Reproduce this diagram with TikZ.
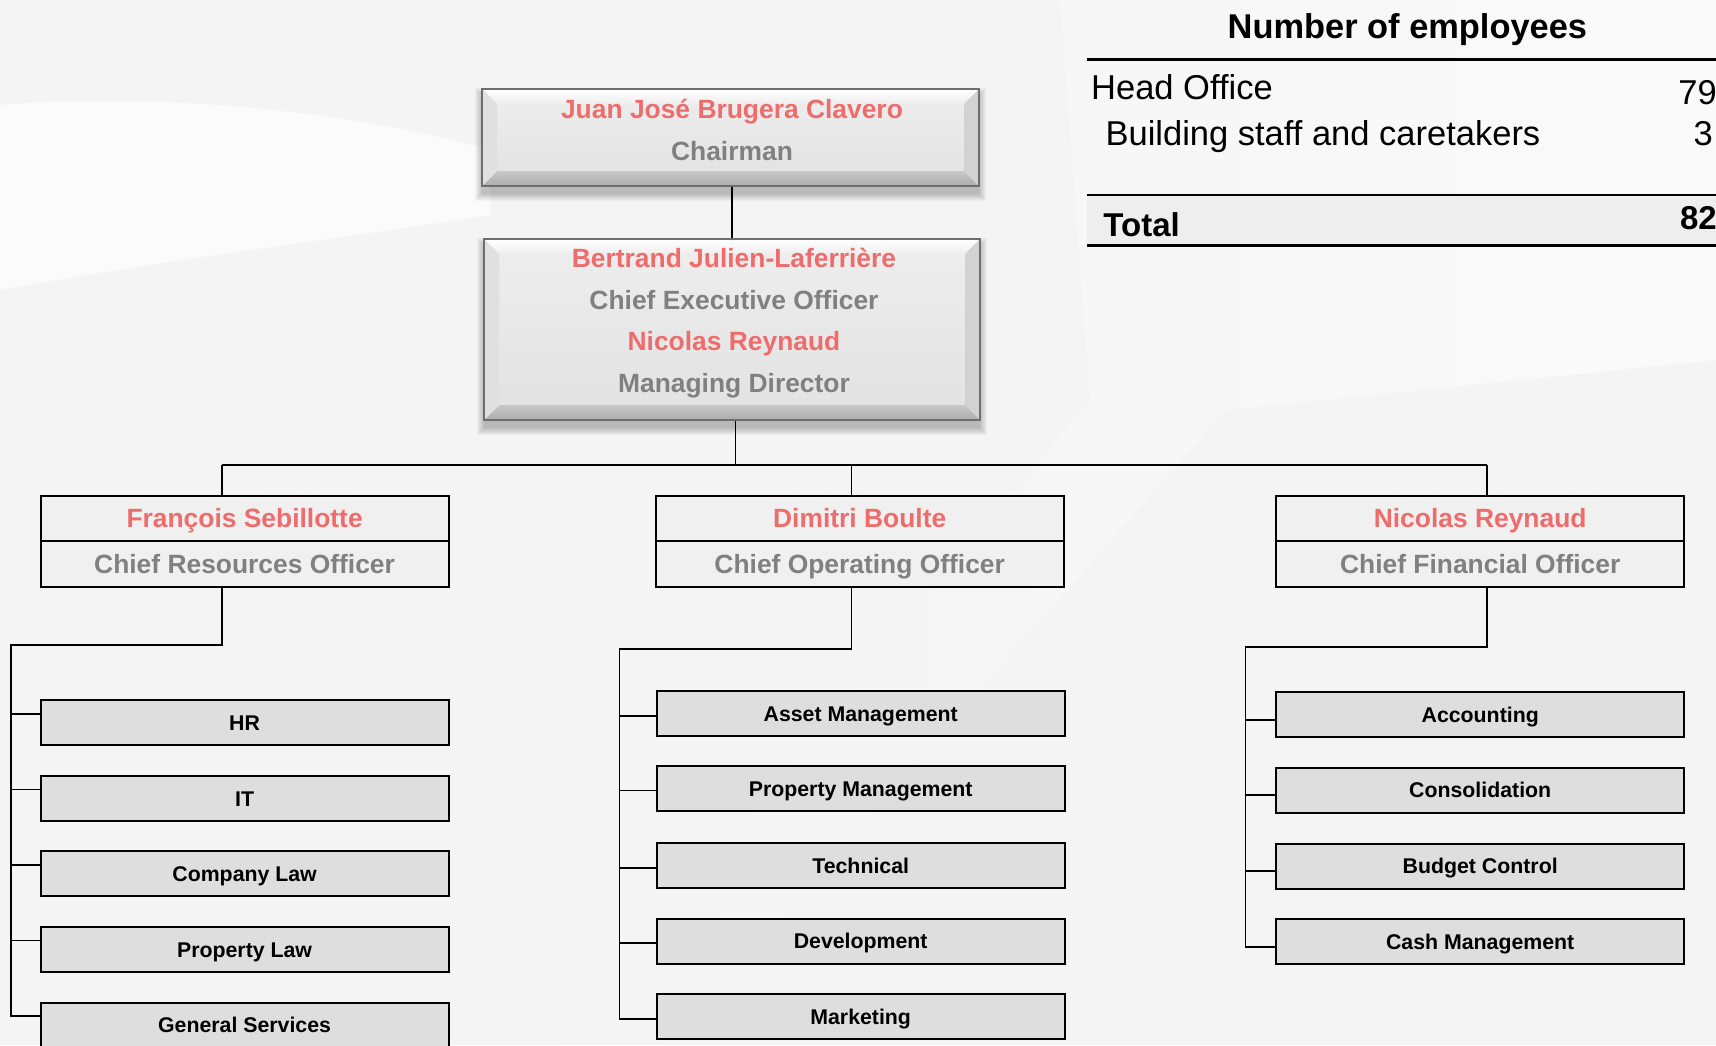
\documentclass[tikz,border=0pt]{standalone}
\usepackage{fontspec}
\setmainfont{Liberation Sans}
\usetikzlibrary{calc}
\definecolor{bgc}{RGB}{245,244,245}
\definecolor{namered}{RGB}{238,108,108}
\definecolor{titlegrey}{RGB}{128,128,128}
\definecolor{offfill}{RGB}{240,240,240}
\definecolor{deptfill}{RGB}{222,222,222}
\definecolor{bandfill}{RGB}{238,238,238}
\definecolor{bevborder}{RGB}{110,110,110}
\definecolor{faceTop}{RGB}{238,238,238}
\definecolor{faceBot}{RGB}{226,226,226}
\definecolor{bevbotA}{RGB}{200,200,200}
\definecolor{bevbotB}{RGB}{172,172,172}
\definecolor{bevsideL}{RGB}{224,224,224}
\definecolor{bevsideR}{RGB}{210,210,210}

\newcommand{\softshadow}[1]{%
  \foreach \s in {0,2,...,14}{%
    \fill[black, opacity=0.03] ($(#1.north west)+(-\s/2,6-\s/2)$) rectangle ($(#1.south east)+(\s/2,8+\s/2)$);
  }%
}
\newcommand{\bevelbox}[1]{%
  \shade[top color=faceTop, bottom color=faceBot] (#1.north west) rectangle (#1.south east);
  \shade[top color=white, bottom color=faceTop] (#1.north west) -- (#1.north east) -- ($(#1.north east)+(-15,15)$) -- ($(#1.north west)+(15,15)$) -- cycle;
  \shade[top color=bevbotA, bottom color=bevbotB] (#1.south west) -- ($(#1.south west)+(15,-15)$) -- ($(#1.south east)+(-15,-15)$) -- (#1.south east) -- cycle;
  \fill[bevsideL] (#1.north west) -- ($(#1.north west)+(15,15)$) -- ($(#1.south west)+(15,-15)$) -- (#1.south west) -- cycle;
  \fill[bevsideR] (#1.north east) -- ($(#1.north east)+(-15,15)$) -- ($(#1.south east)+(-15,-15)$) -- (#1.south east) -- cycle;
  \draw[bevborder, line width=2.5pt] (#1.north west) rectangle (#1.south east);
}

\tikzset{
  conn/.style={draw=black, line width=1.8pt},
  boxshape/.style={inner sep=0pt, outer sep=0pt},
  namestyle/.style={inner sep=0pt, text height=18.9pt, text depth=0pt, font=\fontsize{26.4}{30}\selectfont\bfseries, text=namered},
  titlestyle/.style={namestyle, text=titlegrey},
  offbox/.style={draw=black, line width=2pt, fill=offfill, minimum width=408pt, inner sep=0pt, outer sep=0pt, text height=18.9pt, text depth=0pt, font=\fontsize{26.4}{30}\selectfont\bfseries},
  offname/.style={offbox, minimum height=44.8pt, text=namered},
  offtitle/.style={offbox, minimum height=46pt, text=titlegrey},
  deptbox/.style={draw=black, line width=2pt, fill=deptfill, minimum width=408pt, minimum height=45pt, inner sep=0pt, outer sep=0pt, text height=15.3pt, text depth=0pt, font=\fontsize{21.3}{24}\selectfont\bfseries},
  tabtxt/.style={inner sep=0pt, font=\fontsize{34.5}{40}\selectfont},
  tabbold/.style={inner sep=0pt, font=\fontsize{33}{40}\selectfont\bfseries},
}

\begin{document}
\begin{tikzpicture}[x=1pt, y=-1pt]
\useasboundingbox (0,0) rectangle (1716,1045);
% background
\fill[bgc] (0,0) rectangle (1716,1045);
\fill[white, opacity=0.7] (0,105) .. controls (150,92) and (350,110) .. (490,150) -- (490,215) .. controls (330,240) and (150,262) .. (0,290) -- cycle;
\shade[left color=bgc, right color=white, opacity=0.6] (560,1045) -- (1090,400) -- (1060,0) -- (1716,0) -- (1716,360) -- (1225,410) -- (668,1045) -- cycle;

% top boxes (geometry)
\node[boxshape, minimum width=497pt, minimum height=97pt] (chairbox) at (730.5,137.5) {};
\node[boxshape, minimum width=496pt, minimum height=181pt] (ceobox) at (732,329.5) {};

% officer boxes
\node[offname] (cron) at (244.6,518.2) {François Sebillotte};
\node[offtitle] (crot) at (244.6,563.6) {Chief Resources Officer};
\node[offname] (coon) at (859.7,518.2) {Dimitri Boulte};
\node[offtitle] (coot) at (859.7,563.6) {Chief Operating Officer};
\node[offname] (cfon) at (1480.2,518.2) {Nicolas Reynaud};
\node[offtitle] (cfot) at (1480.2,563.6) {Chief Financial Officer};

% department boxes
\node[deptbox] (hr) at (244.6,722.8) {HR};
\node[deptbox] (it) at (244.6,798.4) {IT};
\node[deptbox] (cl) at (244.6,873.9) {Company Law};
\node[deptbox] (pl) at (244.6,949.4) {Property Law};
\node[deptbox] (gs) at (244.6,1025) {General Services};

\node[deptbox] (am) at (860.7,713.6) {Asset Management};
\node[deptbox] (pm) at (860.7,788.5) {Property Management};
\node[deptbox] (tech) at (860.7,865.7) {Technical};
\node[deptbox] (dev) at (860.7,941.2) {Development};
\node[deptbox] (mkt) at (860.7,1016.7) {Marketing};

\node[deptbox] (acc) at (1480.2,714.6) {Accounting};
\node[deptbox] (cons) at (1480.2,790.2) {Consolidation};
\node[deptbox] (bud) at (1480.2,866.2) {Budget Control};
\node[deptbox] (cash) at (1480.2,941.7) {Cash Management};

% connectors
\draw[conn] (ceobox.north |- chairbox.south) -- (ceobox.north);
\coordinate (bus) at (735.5,465);
\coordinate (busL) at (222.2,465);
\coordinate (busM) at (851.5,465);
\coordinate (busR) at (1487.3,465);
\draw[conn] (ceobox.south -| bus) -- (bus);
\draw[conn] (busL) -- (busR);
\draw[conn] (busL) -- (busL |- cron.north);
\draw[conn] (busM) -- (busM |- coon.north);
\draw[conn] (busR) -- (busR |- cfon.north);

\coordinate (elbL) at (10.9,644.6);
\coordinate (elbM) at (619.4,649);
\coordinate (elbR) at (1245.4,646.8);
\foreach \n in {hr,it,cl,pl,gs}{\coordinate (tk\n) at ($(\n.west)+(0,-9)$);}
\foreach \n in {am,pm,tech,dev,mkt}{\coordinate (tk\n) at ($(\n.west)+(0,2)$);}
\foreach \n in {acc,cons,bud,cash}{\coordinate (tk\n) at ($(\n.west)+(0,5)$);}

\draw[conn] (crot.south -| busL) |- (elbL) -- (tkgs -| elbL) -- (tkgs);
\foreach \n in {hr,it,cl,pl}{\draw[conn] (tk\n -| elbL) -- (tk\n);}
\draw[conn] (coot.south -| busM) |- (elbM) -- (tkmkt -| elbM) -- (tkmkt);
\foreach \n in {am,pm,tech,dev}{\draw[conn] (tk\n -| elbM) -- (tk\n);}
\draw[conn] (cfot.south -| busR) |- (elbR) -- (tkcash -| elbR) -- (tkcash);
\foreach \n in {acc,cons,bud}{\draw[conn] (tk\n -| elbR) -- (tk\n);}

% bevel boxes drawn
\softshadow{chairbox}
\bevelbox{chairbox}
\softshadow{ceobox}
\bevelbox{ceobox}

\node[namestyle] (chairname) at (732,109.4) {Juan José Brugera Clavero};
\node[titlestyle] (chairtitle) at (732,151) {Chairman};
\node[namestyle] (ceoname) at (734,258.3) {Bertrand Julien-Laferrière};
\node[titlestyle] (ceotitle) at (734,299.9) {Chief Executive Officer};
\node[namestyle] (mdname) at (734,341.5) {Nicolas Reynaud};
\node[titlestyle] (mdtitle) at (734,383) {Managing Director};

% table
\fill[bandfill] (1086.7,195.8) rectangle (1716,244);
\draw[line width=3pt] (1086.7,59.1) -- (1716,59.1);
\draw[line width=2pt] (1086.7,194.8) -- (1716,194.8);
\draw[line width=3pt] (1086.7,245.1) -- (1716,245.1);
\node[anchor=base, inner sep=0pt, font=\fontsize{34.4}{40}\selectfont\bfseries] (ttl) at (1407.4,38.3) {Number of employees};
\node[tabtxt, anchor=base west] (ho) at (1091,99.6) {Head Office};
\node[tabtxt, anchor=base east] (hon) at (1717,104) {79};
\node[tabtxt, anchor=base west] (bs) at (1105.4,145.5) {Building staff and caretakers};
\node[tabtxt, anchor=base east] (bsn) at (1713,145.5) {3};
\node[tabbold, anchor=base west] (tot) at (1103.2,236.4) {Total};
\node[tabbold, anchor=base east] (totn) at (1717,229.8) {82};
\end{tikzpicture}
\end{document}
